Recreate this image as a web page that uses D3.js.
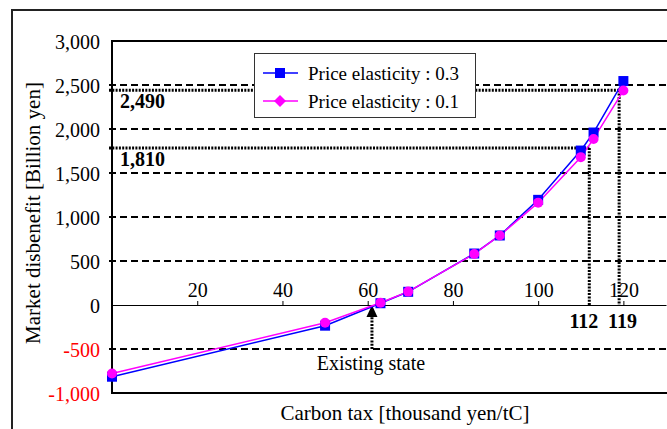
<!DOCTYPE html>
<html><head><meta charset="utf-8">
<script src="https://cdn.jsdelivr.net/npm/d3@7"></script>
<style>body{margin:0;background:#fff}svg{display:block}text{font-family:"Liberation Serif","Times New Roman",serif}</style>
</head><body><svg id="c" width="667" height="429"></svg>
<script>
// ---- data ----
const carbonTax = [0, 50, 63, 69.5, 85, 91, 100, 110, 113, 120];
const elasticity03 = [-815, -235, 20, 150, 585, 790, 1195, 1755, 1960, 2545];
const elasticity01 = [-778, -202, 25, 152, 580, 790, 1163, 1680, 1887, 2437];
const seriesNames = ["Price elasticity : 0.3", "Price elasticity : 0.1"];
const yTicks = [-1000, -500, 0, 500, 1000, 1500, 2000, 2500, 3000];
const gridLevels = [-500, 500, 1000, 1500, 2000, 2500];
const xTicks = [20, 40, 60, 80, 100, 120];
const annotTax = [112, 119];
const annotLevel = [1785, 2440];
const annotLabels = ["1,810", "2,490"];
const taxLabels = ["112", "119"];
const existingTax = 61;
const existingLabel = "Existing state";
const xTitle = "Carbon tax [thousand yen/tC]";
const yTitle = "Market disbenefit [Billion yen]";

const svg = d3.select("#c");
const L = 112, R = 666, T = 41, B = 393;
const x = d3.scaleLinear().domain([0, 130]).range([L, R]);
const y = d3.scaleLinear().domain([-1000, 3000]).range([B, T]);
const loc = d3.formatLocale({decimal: ".", thousands: ",", grouping: [3], currency: ["", ""], minus: "-"});
const fmt = loc.format(",");

// outer border
svg.append("rect").attr("x", 12).attr("y", 10).attr("width", 700).attr("height", 460)
  .attr("fill", "none").attr("stroke", "#222").attr("stroke-width", 2);

// gridlines
svg.append("g").selectAll("line").data(gridLevels).join("line")
  .attr("x1", L - 3).attr("x2", R).attr("y1", d => y(d)).attr("y2", d => y(d))
  .attr("stroke", "#000").attr("stroke-width", 2).attr("stroke-dasharray", "7,4");

// annotation dotted lines
const dot = {stroke: "#000", "stroke-width": 3, "stroke-dasharray": "2,1.3"};
annotTax.forEach((t, i) => {
  const h = svg.append("line").attr("x1", L - 3).attr("x2", x(t)).attr("y1", y(annotLevel[i])).attr("y2", y(annotLevel[i]));
  const v = svg.append("line").attr("x1", x(t)).attr("x2", x(t)).attr("y1", y(annotLevel[i])).attr("y2", y(0));
  for (const k in dot) { h.attr(k, dot[k]); v.attr(k, dot[k]); }
  svg.append("text").attr("x", L + 8).attr("y", y(annotLevel[i]) + 18)
    .attr("font-size", 20).attr("font-weight", "bold").text(annotLabels[i]);
});
svg.append("text").attr("x", x(annotTax[0]) + 9).attr("y", 328).attr("text-anchor", "end")
  .attr("font-size", 20).attr("font-weight", "bold").text(taxLabels[0]);
svg.append("text").attr("x", x(annotTax[1]) - 11).attr("y", 328).attr("text-anchor", "start")
  .attr("font-size", 20).attr("font-weight", "bold").text(taxLabels[1]);

// existing state arrow
const ex = x(existingTax);
svg.append("line").attr("x1", ex).attr("x2", ex).attr("y1", y(-500)).attr("y2", y(0) + 11)
  .attr("stroke", "#000").attr("stroke-width", 3).attr("stroke-dasharray", "2,1.3");
svg.append("path").attr("d", `M${ex},${y(0)} L${ex - 5.5},${y(0) + 12} L${ex + 5.5},${y(0) + 12} Z`).attr("fill", "#000");
svg.append("text").attr("x", ex - 1).attr("y", 370).attr("text-anchor", "middle").attr("font-size", 20).text(existingLabel);

// plot frame
svg.append("rect").attr("x", L).attr("y", T).attr("width", R - L + 4).attr("height", B - T)
  .attr("fill", "none").attr("stroke", "#000").attr("stroke-width", 2);

// y axis labels
const ya = svg.append("g").attr("transform", `translate(${L},0)`)
  .call(d3.axisLeft(y).tickValues(yTicks).tickFormat(fmt).tickSize(0).tickPadding(12));
ya.select(".domain").remove();
ya.selectAll("text").attr("font-size", 20).attr("font-family", "Liberation Serif")
  .attr("fill", d => d < 0 ? "#ff0000" : "#000").attr("dy", "0.35em");

// x axis at zero
const xa = svg.append("g").attr("transform", `translate(0,${y(0)})`)
  .call(d3.axisTop(x).tickValues(xTicks).tickSize(4).tickSizeOuter(0).tickPadding(4));
xa.select(".domain").attr("stroke-width", 1);
xa.selectAll("text").attr("font-size", 20).attr("font-family", "Liberation Serif").attr("fill", "#000");

// lines
const line = d3.line().x((d, i) => x(carbonTax[i])).y(d => y(d));
svg.append("path").datum(elasticity03).attr("d", line).attr("fill", "none").attr("stroke", "#0000ff").attr("stroke-width", 1.5);
svg.append("path").datum(elasticity01).attr("d", line).attr("fill", "none").attr("stroke", "#ff00ff").attr("stroke-width", 1.5);
svg.append("g").selectAll("rect").data(elasticity03).join("rect")
  .attr("x", (d, i) => x(carbonTax[i]) - 5).attr("y", d => y(d) - 5).attr("width", 10).attr("height", 10).attr("fill", "#0000ff");
svg.append("g").selectAll("circle").data(elasticity01).join("circle")
  .attr("cx", (d, i) => x(carbonTax[i])).attr("cy", d => y(d)).attr("r", 5).attr("fill", "#ff00ff");

// legend
const lg = svg.append("g");
lg.append("rect").attr("x", 254.5).attr("y", 53.5).attr("width", 221).attr("height", 64)
  .attr("fill", "#fff").attr("stroke", "#333").attr("stroke-width", 1);
const colors = ["#0000ff", "#ff00ff"];
seriesNames.forEach((n, i) => {
  const cy = 73 + i * 28;
  lg.append("line").attr("x1", 263).attr("x2", 298).attr("y1", cy).attr("y2", cy).attr("stroke", colors[i]).attr("stroke-width", 1.5);
  if (i === 0) lg.append("rect").attr("x", 275).attr("y", cy - 5).attr("width", 10).attr("height", 10).attr("fill", colors[i]);
  else lg.append("path").attr("d", `M280,${cy - 6} L286,${cy} L280,${cy + 6} L274,${cy} Z`).attr("fill", colors[i]);
  lg.append("text").attr("x", 308).attr("y", cy + 6.5).attr("font-size", 19).text(n);
});

// axis titles
svg.append("text").attr("x", 405).attr("y", 420).attr("text-anchor", "middle").attr("font-size", 21).text(xTitle);
svg.append("text").attr("transform", "translate(40,213) rotate(-90)").attr("text-anchor", "middle").attr("font-size", 21).text(yTitle);
</script></body></html>
